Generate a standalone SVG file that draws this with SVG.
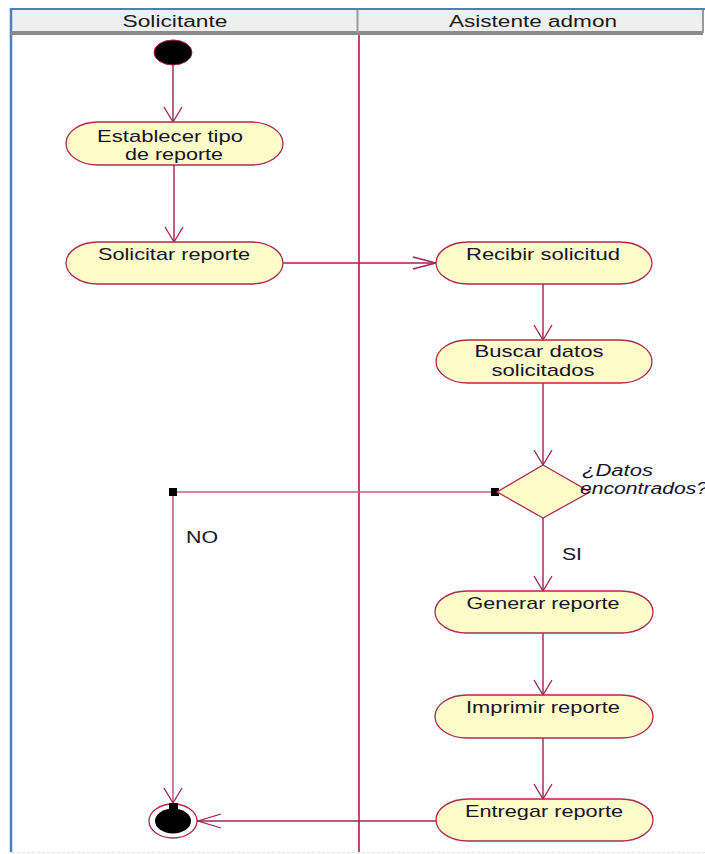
<svg xmlns="http://www.w3.org/2000/svg" width="705" height="854" viewBox="0 0 705 854">
  <defs>
    <style>
      .act { fill: #fefdca; stroke: #b0284f; stroke-width: 1.3; }
      .flow { fill: none; stroke: #a3204c; stroke-width: 1.4; }
      .flow-light { fill: none; stroke: #c4607e; stroke-width: 1.6; }
      .head { fill: none; stroke: #a3204c; stroke-width: 1.3; }
      .lbl { font-family: "Liberation Sans", Arial, sans-serif; font-size: 17px; fill: #14142a; text-anchor: middle; }
      .guard { font-family: "Liberation Sans", Arial, sans-serif; font-size: 16px; fill: #14142a; }
      .lane-title { font-family: "Liberation Sans", Arial, sans-serif; font-size: 16px; fill: #1a1a1a; text-anchor: middle; }
    </style>
  </defs>

  <rect x="0" y="0" width="705" height="854" fill="#ffffff"/>

  <!-- swimlane frame -->
  <g id="lanes">
    <rect x="11" y="9" width="692" height="24" fill="#efefef" stroke="#c8c8c8" stroke-width="1"/>
    <line x1="11" y1="9" x2="705" y2="9" stroke="#4a7fc1" stroke-width="2"/>
    <line x1="11" y1="8" x2="11" y2="852" stroke="#4a7fc1" stroke-width="2.5"/>
    <rect x="11" y="31" width="692" height="4" fill="#8a8a8a"/>
    <line x1="357.5" y1="10" x2="357.5" y2="33" stroke="#9a9a9a" stroke-width="2"/>
    <line x1="703" y1="10" x2="703" y2="33" stroke="#9a9a9a" stroke-width="2"/>
    <line x1="359" y1="35" x2="359" y2="852" stroke="#a3204c" stroke-width="1.6"/>
    <line x1="12" y1="852.5" x2="705" y2="852.5" stroke="#e2e2e2" stroke-width="1" stroke-dasharray="3 2"/>
    <text class="lane-title" x="175" y="27" textLength="105" lengthAdjust="spacingAndGlyphs">Solicitante</text>
    <text class="lane-title" x="533" y="27" textLength="168" lengthAdjust="spacingAndGlyphs">Asistente admon</text>
  </g>

  <!-- connectors -->
  <g id="connectors">
    <!-- start -> Establecer -->
    <line class="flow" x1="173" y1="65" x2="173" y2="122"/>
    <polyline class="head" points="164,107 173,122 182,107"/>
    <!-- Establecer -> Solicitar -->
    <line class="flow" x1="174" y1="165" x2="174" y2="242"/>
    <polyline class="head" points="165,227 174,242 183,227"/>
    <!-- Solicitar -> Recibir -->
    <line class="flow" x1="283" y1="263" x2="436" y2="263"/>
    <polyline class="head" points="413,257 436,263 413,269"/>
    <!-- Recibir -> Buscar -->
    <line class="flow" x1="543" y1="284" x2="543" y2="340"/>
    <polyline class="head" points="534,325 543,340 552,325"/>
    <!-- Buscar -> decision -->
    <line class="flow" x1="543" y1="383" x2="543" y2="465"/>
    <polyline class="head" points="534,450 543,465 552,450"/>
    <!-- decision -> Generar (SI) -->
    <line class="flow" x1="543" y1="518" x2="543" y2="591"/>
    <polyline class="head" points="534,576 543,591 552,576"/>
    <!-- Generar -> Imprimir -->
    <line class="flow" x1="543" y1="633" x2="543" y2="695"/>
    <polyline class="head" points="534,680 543,695 552,680"/>
    <!-- Imprimir -> Entregar -->
    <line class="flow" x1="543" y1="738" x2="543" y2="799"/>
    <polyline class="head" points="534,784 543,799 552,784"/>
    <!-- decision -> end (NO) -->
    <polyline class="flow-light" points="497,492 173,492 173,804"/>
    <rect x="491" y="488" width="8" height="8" fill="#000000"/>
    <rect x="169" y="488" width="8" height="8" fill="#000000"/>
    <polyline class="head" points="164,788 173,803 182,788"/>
    <!-- Entregar -> end -->
    <line class="flow" x1="197" y1="821" x2="436" y2="821"/>
    <polyline class="head" points="221,814 198,821 221,828"/>
    <text class="guard" x="186" y="543" textLength="32" lengthAdjust="spacingAndGlyphs">NO</text>
    <text class="guard" x="562" y="560" textLength="20" lengthAdjust="spacingAndGlyphs">SI</text>
  </g>

  <!-- initial node -->
  <g id="start">
    <ellipse cx="173" cy="52.5" rx="19" ry="12.5" fill="#000000" stroke="#a3204c" stroke-width="1"/>
  </g>

  <g id="establecer">
    <rect class="act" x="66" y="122" width="217" height="43" rx="32" ry="21.5"/>
    <text class="lbl" x="170" y="142" textLength="146" lengthAdjust="spacingAndGlyphs">Establecer tipo</text>
    <text class="lbl" x="174" y="160" textLength="98" lengthAdjust="spacingAndGlyphs">de reporte</text>
  </g>

  <g id="solicitar">
    <rect class="act" x="66" y="242" width="217" height="42" rx="32" ry="21"/>
    <text class="lbl" x="174" y="260" textLength="152" lengthAdjust="spacingAndGlyphs">Solicitar reporte</text>
  </g>

  <g id="recibir">
    <rect class="act" x="436" y="242" width="216" height="42" rx="32" ry="21"/>
    <text class="lbl" x="543" y="260" textLength="154" lengthAdjust="spacingAndGlyphs">Recibir solicitud</text>
  </g>

  <g id="buscar">
    <rect class="act" x="436" y="340" width="216" height="43" rx="32" ry="21.5"/>
    <text class="lbl" x="539" y="357" textLength="129" lengthAdjust="spacingAndGlyphs">Buscar datos</text>
    <text class="lbl" x="543" y="376" textLength="103" lengthAdjust="spacingAndGlyphs">solicitados</text>
  </g>

  <g id="decision">
    <polygon points="543,465 590,492 543,518 497,492" fill="#fefdca" stroke="#b0284f" stroke-width="1.3"/>
    <text class="guard" x="582" y="476" font-style="italic" textLength="71" lengthAdjust="spacingAndGlyphs">¿Datos</text>
    <text class="guard" x="580" y="494" font-style="italic" textLength="128" lengthAdjust="spacingAndGlyphs">encontrados?</text>
  </g>

  <g id="generar">
    <rect class="act" x="435" y="591" width="218" height="42" rx="32" ry="21"/>
    <text class="lbl" x="543" y="609" textLength="153" lengthAdjust="spacingAndGlyphs">Generar reporte</text>
  </g>

  <g id="imprimir">
    <rect class="act" x="435" y="695" width="218" height="43" rx="32" ry="21.5"/>
    <text class="lbl" x="543" y="713" textLength="154" lengthAdjust="spacingAndGlyphs">Imprimir reporte</text>
  </g>

  <g id="entregar">
    <rect class="act" x="436" y="799" width="217" height="42" rx="32" ry="21"/>
    <text class="lbl" x="544" y="817" textLength="158" lengthAdjust="spacingAndGlyphs">Entregar reporte</text>
  </g>

  <!-- final node -->
  <g id="end">
    <ellipse cx="173" cy="821" rx="24" ry="17" fill="#ffffff" stroke="#b0284f" stroke-width="1.3"/>
    <ellipse cx="173" cy="821" rx="18" ry="12.5" fill="#000000"/>
    <rect x="169" y="803" width="9" height="7" fill="#000000"/>
  </g>
</svg>
